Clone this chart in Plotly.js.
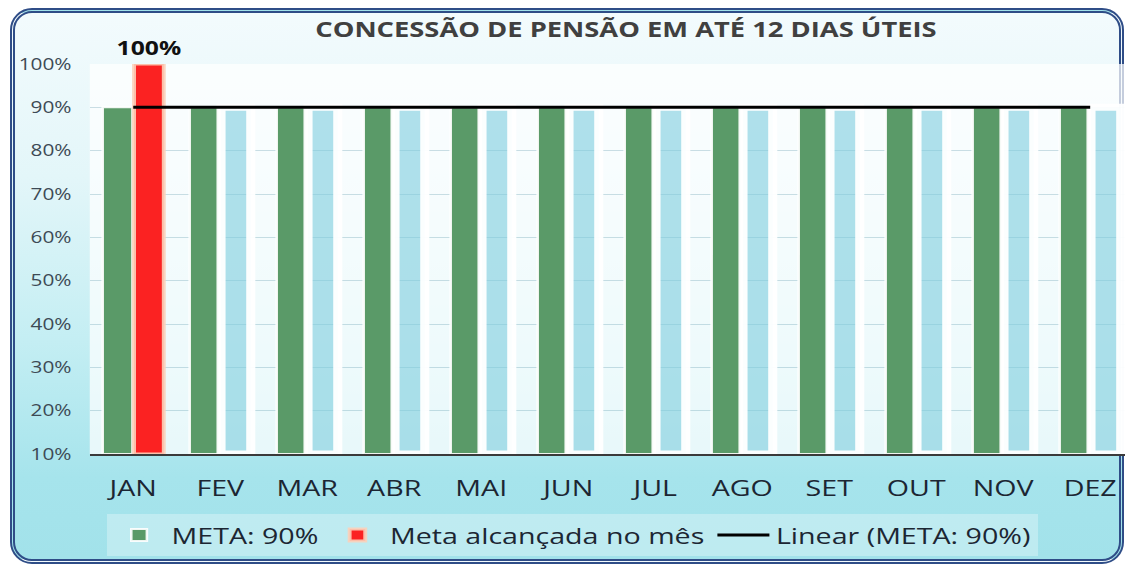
<!DOCTYPE html>
<html>
<head>
<meta charset="utf-8">
<script src="https://cdn.plot.ly/plotly-3.0.1.min.js"></script>
<style>
  html, body { margin: 0; padding: 0; background: #ffffff; width: 1125px; height: 566px; overflow: hidden; }
  #frame {
    position: absolute; left: 10px; top: 8px; width: 1104px; height: 546px;
    border: 5px double #2f4d87; border-radius: 22px;
    background: linear-gradient(to bottom, #f3fbfd 0%, #e3f6f9 30%, #c4eef3 60%, #a6e4ec 85%, #a2e2ea 100%);
  }
  #chart {
    position: absolute; left: 0; top: 0; width: 865px; height: 566px;
    transform: scaleX(1.30058); transform-origin: 0 0;
  }
</style>
</head>
<body>
<div id="frame"></div>
<div id="chart"></div>
<script>
// ---- data ----
const months = ['JAN','FEV','MAR','ABR','MAI','JUN','JUL','AGO','SET','OUT','NOV','DEZ'];
const meta = [0.90,0.90,0.90,0.90,0.90,0.90,0.90,0.90,0.90,0.90,0.90,0.90];
const alcancada = [1.00,0.90,0.90,0.90,0.90,0.90,0.90,0.90,0.90,0.90,0.90,0.90];
const alcancadaLabels = ['100%','','','','','','','','','','',''];
const yTickVals = [0.1,0.2,0.3,0.4,0.5,0.6,0.7,0.8,0.9,1.0];
const yBase = 0.1;

// linear trendline fitted on the META series
const idx = months.map((_, i) => i);
const n = meta.length;
const mx = idx.reduce((a, b) => a + b, 0) / n;
const my = meta.reduce((a, b) => a + b, 0) / n;
let sxy = 0, sxx = 0;
idx.forEach((x, i) => { sxy += (x - mx) * (meta[i] - my); sxx += (x - mx) * (x - mx); });
const slope = sxx ? sxy / sxx : 0;
const intercept = my - slope * mx;
const trend = idx.map(x => intercept + slope * x);

const FONT = '"Open Sans", "Noto Sans", sans-serif';
const GREEN = '#5a9a68';
const RED = '#fb2222';
const GHOST = 'rgba(125,205,222,0.6)';

const redColors = alcancada.map((v, i) => i === 0 ? RED : GHOST);
const redLineColors = alcancada.map((v, i) => i === 0 ? 'rgba(252,208,185,0.9)' : 'rgba(255,255,255,0.95)');
const redLineWidths = alcancada.map((v, i) => i === 0 ? 3 : 7);

const traces = [
  {
    type: 'bar', name: 'META: 90%', x: months, y: meta.map(v => v - yBase), base: yBase,
    marker: { color: GREEN, line: { color: 'rgba(255,255,255,0.9)', width: 2 } },
    hoverinfo: 'skip'
  },
  {
    type: 'bar', name: 'Meta alcançada no mês', x: months, y: alcancada.map(v => v - yBase), base: yBase,
    marker: { color: redColors, line: { color: redLineColors, width: redLineWidths } },
    text: alcancadaLabels, textposition: 'outside', cliponaxis: false, constraintext: 'none',
    textfont: { family: FONT, size: 19, color: '#111111', weight: 'bold' },
    hoverinfo: 'skip'
  },
  {
    type: 'scatter', mode: 'lines', name: 'Linear (META: 90%)', x: months, y: trend,
    line: { color: '#000000', width: 3 }, hoverinfo: 'skip'
  }
];

const layout = {
  width: 865, height: 566,
  paper_bgcolor: 'rgba(0,0,0,0)',
  plot_bgcolor: 'rgba(255,255,255,0.72)',
  margin: { l: 69, r: 0, t: 64, b: 112 },
  font: { family: FONT, color: '#333333' },
  title: {
    text: 'CONCESSÃO DE PENSÃO EM ATÉ 12 DIAS ÚTEIS',
    font: { family: FONT, size: 21, color: '#404040', weight: 'bold' },
    xref: 'container', x: 0.5564, xanchor: 'center',
    yref: 'container', y: 0.947, yanchor: 'middle'
  },
  barmode: 'group', bargap: 0.28, bargroupgap: 0.05,
  xaxis: {
    type: 'category', range: [-0.5, 11.4],
    showgrid: false, zeroline: false,
    showline: true, linecolor: '#3a3a3a', linewidth: 2,
    ticks: '', ticklabelstandoff: 14,
    tickfont: { family: FONT, size: 22, color: '#1c2633' }
  },
  yaxis: {
    range: [0.1, 1.0], tickvals: yTickVals, tickformat: '.0%',
    showgrid: true, gridcolor: 'rgba(90,150,170,0.3)', gridwidth: 1,
    zeroline: false, showline: false, ticks: '', ticklabelstandoff: 13,
    tickfont: { family: FONT, size: 16, color: '#3d4a55' }
  },
  showlegend: true,
  legend: {
    orientation: 'h', x: 0.466, xanchor: 'center', y: -0.208, yanchor: 'middle',
    bgcolor: 'rgba(255,255,255,0.3)', borderwidth: 0,
    font: { family: FONT, size: 22, color: '#1c2633' },
    itemwidth: 40, traceorder: 'normal'
  }
};

Plotly.newPlot('chart', traces, layout, { displayModeBar: false, staticPlot: true });
</script>
</body>
</html>
